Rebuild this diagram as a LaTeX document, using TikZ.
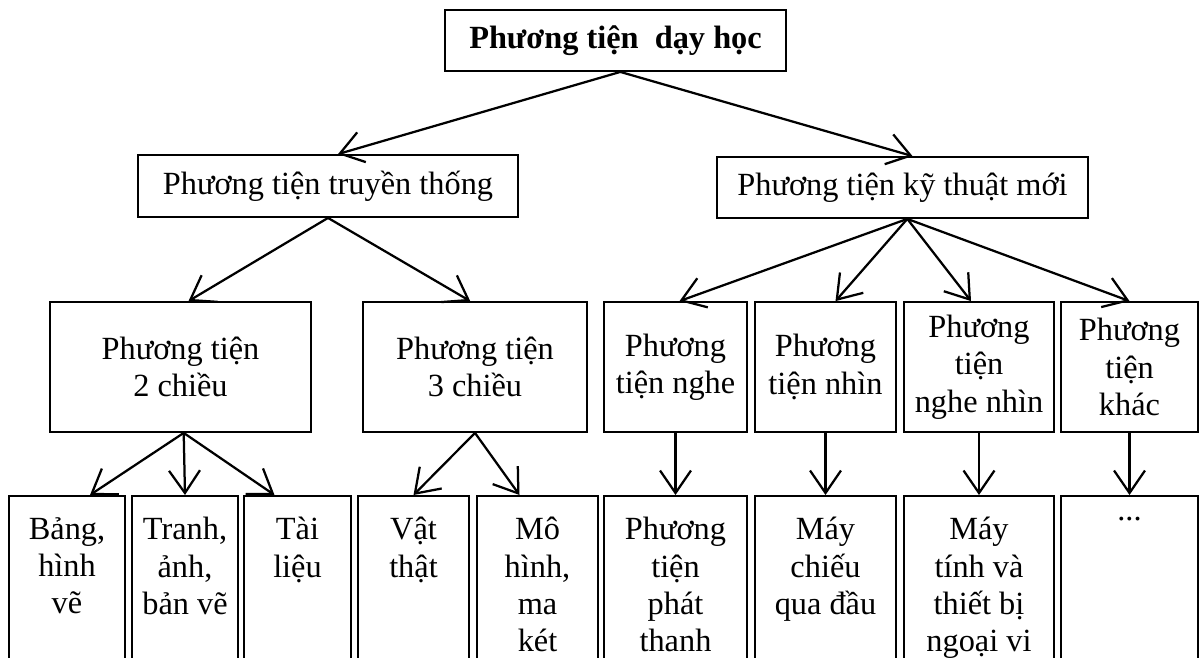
\documentclass[tikz,border=0pt]{standalone}
\usepackage{fontspec}
\setmainfont{Liberation Serif}
\usetikzlibrary{arrows.meta}

\begin{document}
\begin{tikzpicture}[
    x=0.025cm, y=-0.025cm, % pixel grid, y pointing down
    box/.style={draw, line width=1.3pt, rectangle, align=center, inner sep=0pt, font=\fontsize{23}{26.5}\selectfont},
    wh/.style 2 args={minimum width=#1*0.025cm, minimum height=#2*0.025cm},
    leaf/.style={box, anchor=north, minimum height=8cm},
    leaftext/.style={anchor=north, align=center, inner sep=0pt, yshift=-0.55cm, font=\fontsize{23}{26.5}\selectfont},
    arr/.style={-{Straight Barb[length=16pt, width=22pt]}, line width=1.6pt}
]
\useasboundingbox (0,0) rectangle (1200,657);
\clip (0,0) rectangle (1200,657);

%%%%% Root and the two main groups
\node[box, wh={341}{61}, font=\fontsize{23}{26.5}\selectfont\bfseries] (root) at (615.5,40.5) {Phương tiện\ \ dạy học};
\node[box, wh={380}{62}] (tt) at (328,186) {Phương tiện truyền thống};
\node[box, wh={371}{61}] (kt) at (902.5,187.5) {Phương tiện kỹ thuật mới};

% Traditional media
\node[box, wh={261}{130}] (hai)  at (180.5,367) {Phương tiện\\2 chiều};
\node[box, wh={224}{130}] (ba)   at (475,367)   {Phương tiện\\3 chiều};

% New technical media
\node[box, wh={143}{130}] (nghe)     at (675.5,367) {Phương\\tiện nghe};
\node[box, wh={141}{130}] (nhin)     at (825.5,367) {Phương\\tiện nhìn};
\node[box, wh={150}{130}] (nghenhin) at (979,367)   {Phương\\tiện\\nghe nhìn};
\node[box, wh={137}{130}] (khac)     at (1129.5,367) {Phương\\tiện\\khác};

% Examples (boxes run off the page)
\node[leaf, minimum width=116*0.025cm, label={[leaftext]north:Bảng,\\hình\\vẽ}] (bang) at (67,495) {};
\node[leaf, minimum width=106*0.025cm, label={[leaftext]north:Tranh,\\ảnh,\\bản vẽ}] (tranh) at (185,495) {};
\node[leaf, minimum width=107*0.025cm, label={[leaftext]north:Tài\\liệu}] (tailieu) at (297.5,495) {};
\node[leaf, minimum width=111*0.025cm, label={[leaftext]north:Vật\\thật}] (vatthat) at (413.5,495) {};
\node[leaf, minimum width=121*0.025cm, label={[leaftext]north:Mô\\hình,\\ma\\két}] (mohinh) at (537.5,495) {};
\node[leaf, minimum width=143*0.025cm, label={[leaftext]north:Phương\\tiện\\phát\\thanh}] (phatthanh) at (675.5,495) {};
\node[leaf, minimum width=141*0.025cm, label={[leaftext]north:Máy\\chiếu\\qua đầu}] (maychieu) at (825.5,495) {};
\node[leaf, minimum width=150*0.025cm, label={[leaftext]north:Máy\\tính và\\thiết bị\\ngoại vi}] (maytinh) at (979,495) {};
\node[leaf, minimum width=137*0.025cm, label={[leaftext]north:...}] (khac2) at (1129.5,495) {};

%  Arrows
\draw[arr] ([xshift=0.12cm]root.south) -- ([xshift=0.25cm]tt.north);
\draw[arr] ([xshift=0.12cm]root.south) -- ([xshift=0.25cm]kt.north);

\draw[arr] (tt.south) -- ([xshift=0.2cm]hai.north);
\draw[arr] (tt.south) -- ([xshift=-0.12cm]ba.north);

\draw[arr] ([xshift=0.12cm]kt.south) -- ([xshift=0.1cm]nghe.north);
\draw[arr] ([xshift=0.12cm]kt.south) -- ([xshift=0.25cm]nhin.north);
\draw[arr] ([xshift=0.12cm]kt.south) -- ([xshift=-0.2cm]nghenhin.north);
\draw[arr] ([xshift=0.12cm]kt.south) -- (khac.north);

\draw[arr] ([xshift=0.08cm]hai.south) -- ([xshift=0.575cm]bang.north);
\draw[arr] ([xshift=0.08cm]hai.south) -- (tranh.north);
\draw[arr] ([xshift=0.08cm]hai.south) -- ([xshift=-0.575cm]tailieu.north);

\draw[arr] (ba.south) -- (vatthat.north);
\draw[arr] (ba.south) -- ([xshift=-0.45cm]mohinh.north);

\draw[arr] (nghe.south) -- (phatthanh.north);
\draw[arr] (nhin.south) -- (maychieu.north);
\draw[arr] (nghenhin.south) -- (maytinh.north);
\draw[arr] (khac.south) -- (khac2.north);

\end{tikzpicture}
\end{document}
